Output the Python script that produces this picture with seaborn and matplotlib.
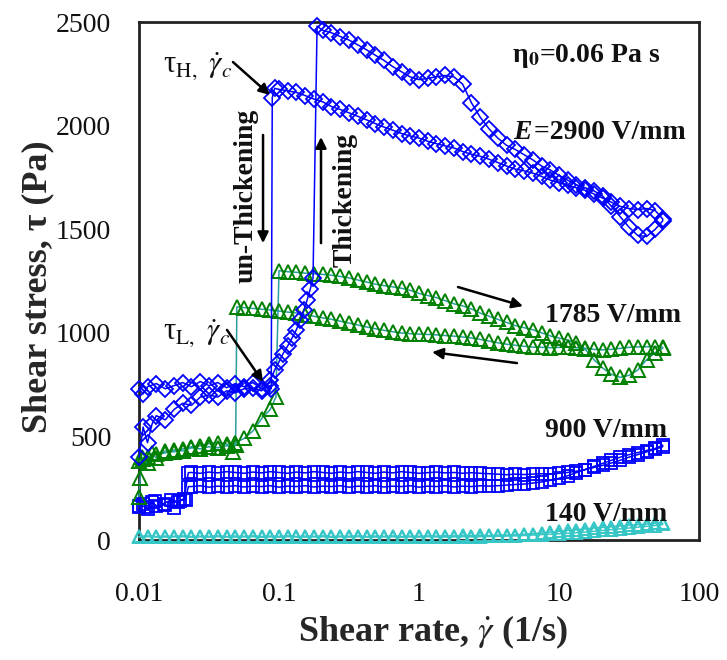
import matplotlib
matplotlib.use("Agg")
import matplotlib.pyplot as plt
import pandas as pd
import seaborn as sns

# ---------------------------------------------------------------------------
# Shear-rate sweeps (1/s) and measured shear stress (Pa) for each electric field
# ---------------------------------------------------------------------------

# E = 2900 V/mm, increasing shear rate
e2900_up_rate = [0.0100, 0.0107, 0.0115, 0.0124, 0.0133, 0.0154, 0.0178, 0.0205, 0.0237, 0.0274,
                 0.0316, 0.0365, 0.0422, 0.0487, 0.0562, 0.0649, 0.0750, 0.0866,
                 0.0930, 0.100, 0.107, 0.115, 0.124, 0.133, 0.142, 0.151, 0.159, 0.167, 0.175,
                 0.187,
                 0.205, 0.237, 0.274, 0.316, 0.365, 0.422, 0.487, 0.562, 0.649, 0.750, 0.866,
                 1.00, 1.15, 1.33, 1.54, 1.78, 2.05, 2.37, 2.74, 3.16, 3.65, 4.22, 4.87, 5.62,
                 6.49, 7.50, 8.66,
                 10.0, 11.5, 13.3, 15.4, 17.8, 20.5, 23.7, 27.4, 31.6, 36.5, 42.2, 48.7, 55.0]
e2900_up_tau = [400, 545, 470, 560, 600, 580, 630, 660, 650, 690,
                700, 690, 720, 710, 730, 735, 720, 770,
                820, 860, 900, 935, 975, 1015, 1060, 1110, 1160, 1210, 1265,
                2480,
                2460, 2448, 2430, 2413, 2390, 2366, 2340, 2315, 2285, 2260, 2235,
                2222, 2228, 2236, 2242, 2235, 2200, 2110, 2040, 1985, 1940, 1905, 1885, 1860,
                1835, 1805, 1786,
                1760, 1737, 1715, 1700, 1685, 1660, 1610, 1560, 1510, 1470, 1465, 1500, 1540]

# E = 2900 V/mm, decreasing shear rate
e2900_dn_rate = [55.0, 48.7, 42.2, 36.5, 31.6, 27.4, 23.7, 20.5, 17.8, 15.4, 13.3, 11.5, 10.0,
                 8.66, 7.50, 6.49, 5.62, 4.87, 4.22, 3.65, 3.16, 2.74, 2.37, 2.05, 1.78, 1.54,
                 1.33, 1.15, 1.00,
                 0.866, 0.750, 0.649, 0.562, 0.487, 0.422, 0.365, 0.316, 0.274, 0.237, 0.205,
                 0.178, 0.154, 0.133, 0.115, 0.100, 0.0930, 0.0895,
                 0.0880,
                 0.0866, 0.0750, 0.0649, 0.0562, 0.0487, 0.0422, 0.0365, 0.0316, 0.0274,
                 0.0237, 0.0205, 0.0178, 0.0154, 0.0133, 0.0115, 0.0107, 0.0100]
e2900_dn_tau = [1550, 1590, 1600, 1595, 1600, 1610, 1630, 1650, 1670, 1688, 1700, 1713, 1725,
                1737, 1755, 1771, 1782, 1790, 1805, 1822, 1838, 1852, 1862, 1875, 1892, 1902,
                1913, 1925, 1940,
                1950, 1962, 1978, 1993, 2010, 2028, 2045, 2062, 2078, 2092, 2115,
                2128, 2145, 2160, 2168, 2175, 2180, 2135,
                730,
                745, 730, 760, 740, 755, 735, 760, 745, 765,
                740, 760, 745, 730, 755, 740, 705, 730]

# E = 1785 V/mm
e1785_up_rate = [0.0100, 0.0102, 0.0105, 0.0115, 0.0124, 0.0133, 0.0154, 0.0178, 0.0205, 0.0237,
                 0.0274, 0.0316, 0.0365, 0.0422, 0.0470, 0.0487, 0.0562, 0.0649, 0.0750, 0.0866,
                 0.0950,
                 0.100, 0.115, 0.133, 0.154, 0.178, 0.205, 0.237, 0.274, 0.316, 0.365, 0.422,
                 0.487, 0.562, 0.649, 0.750, 0.866,
                 1.00, 1.15, 1.33, 1.54, 1.78, 2.05, 2.37, 2.74, 3.16, 3.65, 4.22, 4.87, 5.62,
                 6.49, 7.50, 8.66,
                 10.0, 11.5, 13.3, 15.4, 17.8, 20.5, 23.7, 27.4, 31.6, 36.5, 42.2, 48.7, 55.0]
e1785_up_tau = [210, 300, 400, 370, 420, 395, 430, 425, 440, 450,
                455, 465, 470, 465, 425, 470, 490, 525, 585, 630,
                690,
                1300, 1295, 1292, 1288, 1285, 1282, 1278, 1272, 1265, 1255, 1245,
                1235, 1228, 1222, 1215, 1205,
                1190, 1180, 1170, 1155, 1140, 1130, 1115, 1095, 1080, 1065, 1050, 1035, 1025,
                1015, 1000, 985,
                975, 965, 950, 920, 870, 830, 800, 785, 795, 820, 870, 905, 925]
e1785_dn_rate = [55.0, 48.7, 42.2, 36.5, 31.6, 27.4, 23.7, 20.5, 17.8, 15.4, 13.3, 11.5, 10.0,
                 8.66, 7.50, 6.49, 5.62, 4.87, 4.22, 3.65, 3.16, 2.74, 2.37, 2.05, 1.78, 1.54,
                 1.33, 1.15, 1.00,
                 0.866, 0.750, 0.649, 0.562, 0.487, 0.422, 0.365, 0.316, 0.274, 0.237, 0.205,
                 0.178, 0.154, 0.133, 0.115, 0.100,
                 0.0866, 0.0750, 0.0649, 0.0562, 0.0500,
                 0.0490, 0.0422, 0.0365, 0.0316, 0.0274, 0.0237, 0.0205, 0.0178, 0.0154,
                 0.0133, 0.0115, 0.0107, 0.0100]
e1785_dn_tau = [930, 932, 933, 932, 930, 925, 920, 918, 920, 925, 928, 931, 930,
                928, 930, 931, 935, 940, 945, 952, 960, 968, 975, 980, 984, 987,
                990, 992, 994,
                996, 999, 1005, 1012, 1020, 1028, 1038, 1047, 1056, 1065, 1072,
                1080, 1088, 1096, 1100, 1105,
                1110, 1114, 1118, 1122, 1125,
                460, 455, 445, 450, 440, 445, 430, 435, 420,
                415, 400, 390, 380]

# E = 900 V/mm
e900_up_rate = [0.0100, 0.0107, 0.0115, 0.0124, 0.0133, 0.0154, 0.0178, 0.0195, 0.0215,
                0.0225, 0.0237, 0.0274, 0.0316, 0.0365, 0.0422, 0.0487, 0.0562, 0.0649, 0.0750,
                0.0866,
                0.100, 0.115, 0.133, 0.154, 0.178, 0.205, 0.237, 0.274, 0.316, 0.365, 0.422,
                0.487, 0.562, 0.649, 0.750, 0.866,
                1.00, 1.15, 1.33, 1.54, 1.78, 2.05, 2.37, 2.74, 3.16, 3.65, 4.22, 4.87, 5.62,
                6.49, 7.50, 8.66,
                10.0, 11.5, 13.3, 15.4, 17.8, 20.5, 23.7, 27.4, 31.6, 36.5, 42.2, 48.7, 55.0]
e900_up_tau = [160, 175, 150, 185, 165, 170, 155, 190, 195,
               258, 258, 262, 255, 260, 258, 262, 256, 260, 258,
               262,
               255, 260, 258, 262, 256, 260, 258, 262, 255, 260, 258,
               262, 256, 260, 258, 262,
               255, 260, 258, 262, 256, 260, 258, 262, 260, 262, 265, 268, 270,
               275, 280, 288,
               298, 310, 325, 340, 355, 370, 385, 400, 412, 422, 432, 442, 458]
e900_dn_rate = [55.0, 48.7, 42.2, 36.5, 31.6, 27.4, 23.7, 20.5, 17.8, 15.4, 13.3, 11.5, 10.0,
                8.66, 7.50, 6.49, 5.62, 4.87, 4.22, 3.65, 3.16, 2.74, 2.37, 2.05, 1.78, 1.54,
                1.33, 1.15, 1.00,
                0.866, 0.750, 0.649, 0.562, 0.487, 0.422, 0.365, 0.316, 0.274, 0.237, 0.205,
                0.178, 0.154, 0.133, 0.115, 0.100,
                0.0866, 0.0750, 0.0649, 0.0562, 0.0487, 0.0422, 0.0365, 0.0316, 0.0274,
                0.0237, 0.0225,
                0.0210, 0.0190, 0.0170, 0.0150, 0.0130, 0.0112, 0.0100]
e900_dn_tau = [450, 438, 425, 412, 400, 385, 372, 360, 350, 340, 332, 326, 322,
               318, 320, 318, 316, 318, 315, 318, 320, 322, 325, 322, 326, 324,
               328, 325, 322,
               326, 330, 324, 328, 322, 326, 330, 324, 328, 322, 326,
               330, 324, 328, 322, 326,
               330, 324, 328, 322, 326, 330, 324, 328, 322,
               326, 325,
               200, 185, 195, 175, 190, 160, 165]

# E = 140 V/mm
e140_up_rate = [0.0100, 0.0115, 0.0133, 0.0154, 0.0178, 0.0205, 0.0237, 0.0274, 0.0316, 0.0365,
                0.0422, 0.0487, 0.0562, 0.0649, 0.0750, 0.0866,
                0.100, 0.115, 0.133, 0.154, 0.178, 0.205, 0.237, 0.274, 0.316, 0.365, 0.422,
                0.487, 0.562, 0.649, 0.750, 0.866,
                1.00, 1.15, 1.33, 1.54, 1.78, 2.05, 2.37, 2.74, 3.16, 3.65, 4.22, 4.87, 5.62,
                6.49, 7.50, 8.66,
                10.0, 11.5, 13.3, 15.4, 17.8, 20.5, 23.7, 27.4, 31.6, 36.5, 42.2, 48.7, 55.0]
e140_up_tau = [18, 20, 17, 19, 18, 20, 17, 19, 18, 20,
               17, 19, 18, 20, 17, 19,
               18, 20, 17, 19, 18, 20, 17, 19, 18, 20, 17,
               19, 18, 20, 17, 19,
               18, 20, 19, 21, 20, 22, 21, 23, 22, 24, 24, 26, 28,
               31, 34, 38,
               42, 46, 50, 54, 58, 62, 65, 68, 71, 74, 77, 80, 82]
e140_dn_rate = [55.0, 48.7, 42.2, 36.5, 31.6, 27.4, 23.7, 20.5, 17.8, 15.4, 13.3, 11.5, 10.0,
                8.66, 7.50, 6.49, 5.62, 4.87, 4.22, 3.65, 3.16, 2.74, 2.37, 2.05, 1.78, 1.54,
                1.33, 1.15, 1.00,
                0.866, 0.750, 0.649, 0.562, 0.487, 0.422, 0.365, 0.316, 0.274, 0.237, 0.205,
                0.178, 0.154, 0.133, 0.115, 0.100,
                0.0866, 0.0750, 0.0649, 0.0562, 0.0487, 0.0422, 0.0365, 0.0316, 0.0274,
                0.0237, 0.0205, 0.0178, 0.0154, 0.0133, 0.0115, 0.0100]
e140_dn_tau = [75, 70, 66, 62, 58, 54, 50, 46, 42, 38, 35, 32, 30,
               28, 26, 24, 22, 20, 19, 18, 17, 16, 15, 16, 15, 14,
               15, 16, 14,
               15, 14, 16, 15, 14, 15, 16, 14, 15, 14, 16,
               15, 14, 15, 16, 14,
               15, 14, 16, 15, 14, 15, 16, 14, 15,
               14, 16, 15, 14, 15, 16, 14]

# ---------------------------------------------------------------------------
sns.set_theme(style="white")
plt.rcParams["font.family"] = ["Liberation Serif", "DejaVu Serif"]
plt.rcParams["mathtext.fontset"] = "stix"

fig = plt.figure(figsize=(7.27, 6.6), dpi=100)
ax = fig.add_axes([0.1912, 0.1818, 0.7703, 0.7848])
ax.set_xscale("log")


def sweep(rate_up, tau_up, rate_dn, tau_dn):
    return pd.DataFrame({"rate": rate_up + rate_dn, "tau": tau_up + tau_dn})


def draw(df, marker, line_color, edge_color, ms, mew=1.3, lw=1.1):
    sns.lineplot(data=df, x="rate", y="tau", sort=False, estimator=None, ax=ax,
                 color=line_color, lw=lw, marker=marker, ms=ms,
                 markerfacecolor="none", markeredgecolor=edge_color,
                 markeredgewidth=mew, clip_on=False, zorder=3, legend=False)


draw(sweep(e140_up_rate, e140_up_tau, e140_dn_rate, e140_dn_tau),
     "^", "#3cc8c8", "#36c6c6", 9, mew=1.4)
draw(sweep(e900_up_rate, e900_up_tau, e900_dn_rate, e900_dn_tau),
     "s", "#0000ff", "#0000ff", 9)
draw(sweep(e1785_up_rate, e1785_up_tau, e1785_dn_rate, e1785_dn_tau),
     "^", "#2a9d9d", "#008000", 10, mew=1.4)
draw(sweep(e2900_up_rate, e2900_up_tau, e2900_dn_rate, e2900_dn_tau),
     "D", "#0000ff", "#0000ff", 8.5)

ax.set_xlim(0.01, 100)
ax.set_ylim(0, 2500)
ax.set_xticks([0.01, 0.1, 1, 10, 100])
ax.set_xticklabels(["0.01", "0.1", "1", "10", "100"])
ax.set_yticks([0, 500, 1000, 1500, 2000, 2500])
ax.minorticks_off()
ax.tick_params(axis="both", which="major", direction="in", length=8, width=1.8,
               color="black", labelsize=20, labelcolor="#111111")
ax.tick_params(axis="x", pad=30)
ax.tick_params(axis="y", pad=20)

for side in ["left", "right", "top", "bottom"]:
    ax.spines[side].set_visible(True)
    ax.spines[side].set_color("#222222")
    ax.spines[side].set_linewidth(2.0)
ax.grid(False)

ax.set_xlabel(r"Shear rate, $\dot{\gamma}$ (1/s)", fontsize=26, fontweight="bold")
ax.set_ylabel("Shear stress, τ (Pa)", fontsize=26, fontweight="bold")
ax.xaxis.set_label_coords(0.525, -0.142)
ax.yaxis.set_label_coords(-0.152, 0.49)

# Field and viscosity labels
bold = dict(fontsize=20, fontweight="bold", color="#111111", transform=ax.transAxes,
            va="baseline", ha="left")
ax.text(0.666, 0.923, r"η$_{\mathbf{0}}$=0.06 Pa s", **bold)
ax.text(0.668, 0.774, "E", fontstyle="italic", **bold)
ax.text(0.705, 0.774, "=2900 V/mm", **bold)
ax.text(0.725, 0.421, "1785 V/mm", **bold)
ax.text(0.725, 0.199, "900 V/mm", **bold)
ax.text(0.725, 0.037, "140 V/mm", **bold)

# Critical stress labels
ax.text(0.043, 0.903, r"τ$_{\mathrm{H,}}$ $\dot{\gamma}_c$", fontsize=22, color="#111111",
        transform=ax.transAxes, va="baseline", ha="left")
ax.text(0.043, 0.386, r"τ$_{\mathrm{L,}}$ $\dot{\gamma}_c$", fontsize=22, color="#111111",
        transform=ax.transAxes, va="baseline", ha="left")

# Rotated transition labels
ax.text(0.191, 0.664, "un-Thickening", rotation=90, fontsize=20, fontweight="bold",
        color="#111111", transform=ax.transAxes, ha="center", va="center")
ax.text(0.368, 0.656, "Thickening", rotation=90, fontsize=20, fontweight="bold",
        color="#111111", transform=ax.transAxes, ha="center", va="center")

arrow = dict(arrowstyle="-|>", color="black", lw=1.8, mutation_scale=16,
             shrinkA=0, shrinkB=0)
ax.annotate("", xy=(0.0862, 2148), xytext=(0.0469, 2307), arrowprops=arrow)
ax.annotate("", xy=(0.0769, 763), xytext=(0.0425, 1014), arrowprops=arrow)
ax.annotate("", xy=(0.0769, 1433), xytext=(0.0769, 1955), arrowprops=arrow)
ax.annotate("", xy=(0.1995, 1945), xytext=(0.1995, 1433), arrowprops=arrow)
ax.annotate("", xy=(5.53, 1129), xytext=(1.90, 1221), arrowprops=arrow)
ax.annotate("", xy=(1.24, 907), xytext=(5.01, 854), arrowprops=arrow)

fig.savefig("out.png", dpi=100, facecolor="white")
